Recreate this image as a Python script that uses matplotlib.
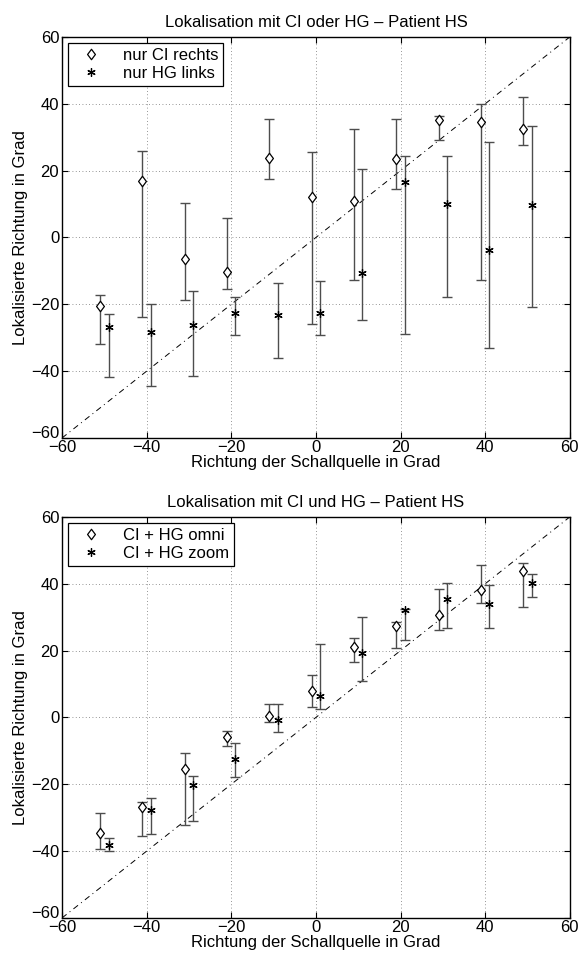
import numpy as np
import matplotlib
matplotlib.use('Agg')
from matplotlib import pyplot as plt
from matplotlib.path import Path

plt.rcParams['font.family'] = ['Liberation Sans', 'DejaVu Sans']

directions = [-50, -40, -30, -20, -10, 0, 10, 20, 30, 40, 50]

# Top: nur CI rechts / nur HG links
ci_mean = [-20.5, 16.8, -6.5, -10.2, 23.9, 12.0, 10.8, 23.5, 35.2, 34.5, 32.5]
ci_top = [-17.2, 26.0, 10.3, 5.7, 35.5, 25.5, 32.5, 35.4, 36.3, 39.8, 42.0]
ci_bot = [-31.8, -23.8, -18.7, -15.5, 17.6, -25.8, -12.7, 14.5, 29.3, -12.7, 27.8]

hg_mean = [-26.8, -28.2, -26.3, -22.6, -23.2, -22.5, -10.5, 16.5, 10.1, -3.7, 9.7]
hg_top = [-23.0, -20.0, -16.0, -17.7, -13.5, -13.0, 20.4, 24.3, 24.3, 28.7, 33.5]
hg_bot = [-41.7, -44.3, -41.5, -29.3, -36.2, -29.3, -24.8, -29.0, -17.8, -33.0, -20.7]

# Bottom: CI + HG omni / CI + HG zoom
omni_mean = [-34.7, -26.8, -15.3, -6.0, 0.5, 8.0, 21.2, 27.3, 30.8, 38.2, 43.8]
omni_top = [-28.5, -25.2, -10.6, -4.0, 4.0, 12.7, 23.9, 28.7, 38.3, 45.5, 46.3]
omni_bot = [-39.3, -35.5, -32.2, -8.5, -1.5, 3.0, 16.5, 20.7, 26.2, 34.1, 33.0]

zoom_mean = [-38.2, -27.7, -20.3, -12.5, -0.8, 6.3, 19.2, 32.2, 35.3, 33.8, 40.3]
zoom_top = [-36.0, -24.0, -17.5, -7.5, 4.0, 22.0, 30.2, 32.5, 40.3, 39.5, 42.8]
zoom_bot = [-40.0, -35.0, -31.0, -17.8, -4.3, 2.5, 11.0, 23.2, 26.9, 26.8, 36.0]

ticks = [-60, -40, -20, 0, 20, 40, 60]

# MATLAB-like diamond (a bit taller than wide) and asterisk
diamond = Path([(0, 1), (0.75, 0), (0, -1), (-0.75, 0), (0, 1)],
			   [Path.MOVETO, Path.LINETO, Path.LINETO, Path.LINETO, Path.CLOSEPOLY])
star = (6, 2, 0)


def draw(ax, title, labels, s1, s2):
	x = np.array(directions, dtype=float)
	ax.plot([-60, 60], [-60, 60], color='k', linestyle=(0, (6, 4, 1, 4)), linewidth=0.7)
	styles = ((diamond, 7.5, 'white'), (star, 6, 'k'))
	for (mean, top, bot), dx, (mk, ms, fc), lab in zip((s1, s2), (-1, 1), styles, labels):
		mean = np.array(mean)
		yerr = [mean - np.array(bot), np.array(top) - mean]
		ax.errorbar(x + dx, mean, yerr=yerr, fmt='none', ecolor='0.3', elinewidth=1.0,
					capsize=3.5, capthick=1.0)
		ax.plot(x + dx, mean, linestyle='none', marker=mk, markersize=ms,
				markerfacecolor=fc, markeredgecolor='k', markeredgewidth=0.9, label=lab)
	ax.set_xlim(-60, 60)
	ax.set_ylim(-60, 60)
	ax.set_xticks(ticks)
	ax.set_yticks(ticks)
	ax.set_xticklabels(['\u2212%d' % -t if t < 0 else str(t) for t in ticks])
	ylabs = ax.set_yticklabels(['\u2212%d' % -t if t < 0 else str(t) for t in ticks])
	ylabs[0].set_va('baseline')
	ax.tick_params(direction='in', top=True, right=True, labelsize=12, length=4)
	ax.tick_params(axis='x', pad=1.5)
	ax.tick_params(axis='y', pad=2)
	for sp in ax.spines.values():
		sp.set_linewidth(1.0)
	ax.grid(True, linestyle=(0, (1, 3)), color='0.45', linewidth=0.6)
	ax.set_title(title, fontsize=12, pad=7)
	ax.set_xlabel('Richtung der Schallquelle in Grad', fontsize=12, labelpad=0)
	ax.set_ylabel('Lokalisierte Richtung in Grad', fontsize=12, labelpad=2)
	leg = ax.legend(loc='upper left', fontsize=12, fancybox=False, framealpha=1,
					edgecolor='k', borderaxespad=0.35, handletextpad=0.8, borderpad=0.3,
					labelspacing=0.2, handlelength=2.2)
	leg.get_frame().set_linewidth(0.9)


fig = plt.figure(figsize=(5.81, 9.58), dpi=100)
ax1 = fig.add_axes([0.1067, 0.5428, 0.874, 0.4186])
ax2 = fig.add_axes([0.1067, 0.0418, 0.874, 0.4186])

draw(ax1, 'Lokalisation mit CI oder HG \u2013 Patient HS', ['nur CI rechts', 'nur HG links'],
	 (ci_mean, ci_top, ci_bot), (hg_mean, hg_top, hg_bot))
draw(ax2, 'Lokalisation mit CI und HG \u2013 Patient HS', ['CI + HG omni', 'CI + HG zoom'],
	 (omni_mean, omni_top, omni_bot), (zoom_mean, zoom_top, zoom_bot))

fig.savefig('out.png', dpi=100)
